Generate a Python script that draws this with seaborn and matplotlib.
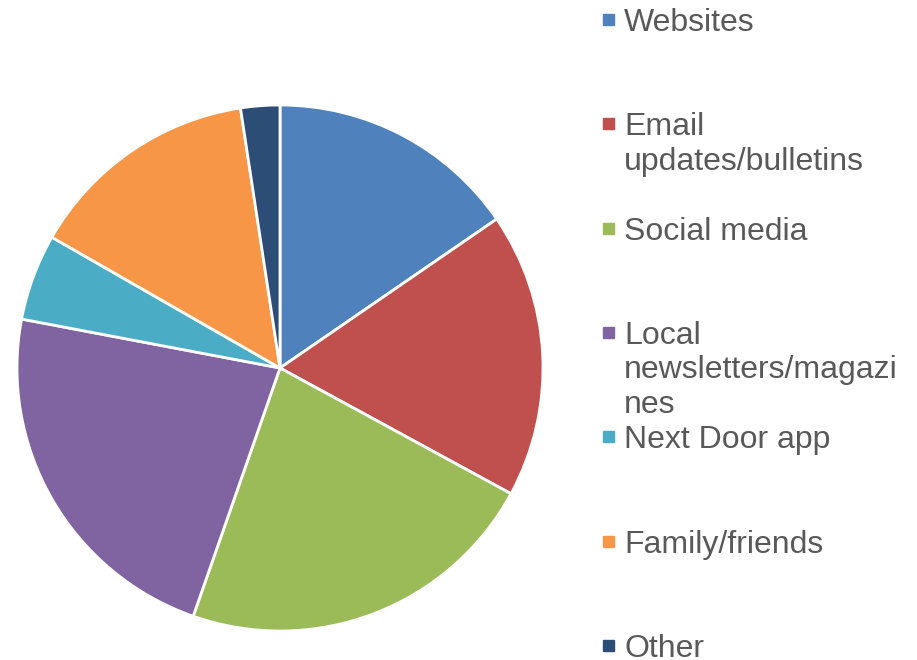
import matplotlib
matplotlib.use('Agg')
import matplotlib.pyplot as plt
import seaborn as sns

# data (share of responses, %)
labels = ["Websites", "Email\nupdates/bulletins", "Social media",
          "Local\nnewsletters/magazi\nnes", "Next Door app",
          "Family/friends", "Other"]
shares = [15.4, 17.5, 22.4, 22.6, 5.3, 14.3, 2.4]
colors = ["#4F81BD", "#C0504D", "#9BBB59", "#8064A2",
          "#4BACC6", "#F79646", "#2C4D75"]

sns.set_theme(style="white")
plt.rcParams['font.family'] = ['Liberation Sans', 'DejaVu Sans']

W, H = 917, 660
fig = plt.figure(figsize=(W / 100, H / 100), dpi=100)

# pie: centre ~ (280, 368) px, radius ~ 263 px
cx, cy, r = 280, 368, 263
ax = fig.add_axes([(cx - r) / W, (H - cy - r) / H, 2 * r / W, 2 * r / H])
ax.pie(shares, colors=colors, startangle=90, counterclock=False,
       wedgeprops=dict(edgecolor='white', linewidth=2.0))
ax.set_xlim(-1, 1)
ax.set_ylim(-1, 1)
ax.set_aspect('equal')
ax.axis('off')

# legend, one entry per slot down the right side
y0, step = 20, 104.3
for i, (lab, col) in enumerate(zip(labels, colors)):
    y = y0 + i * step
    fig.patches.append(plt.Rectangle((603 / W, 1 - (y + 5) / H), 11 / W, 11 / H,
                                     transform=fig.transFigure, color=col))
    fig.text(624 / W, 1 - (y - 12) / H, lab, ha='left', va='top',
             fontsize=23, color='#595959', linespacing=1.2)

fig.savefig("out.png", dpi=100)
